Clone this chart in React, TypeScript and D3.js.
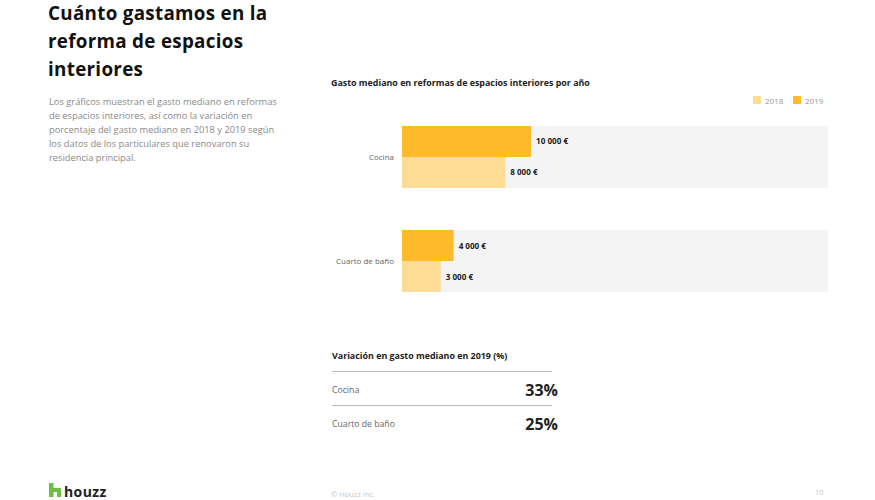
import React from "react";
import * as d3 from "d3";

const categories = ["Cocina", "Cuarto de baño"];
const years = ["2018", "2019"];
const values2018 = [8000, 3000];
const values2019 = [10000, 4000];
const variation = [33, 25];
const titleLines = ["Cuánto gastamos en la", "reforma de espacios", "interiores"];
const bodyLines = [
  "Los gráficos muestran el gasto mediano en reformas",
  "de espacios interiores, así como la variación en",
  "porcentaje del gasto mediano en 2018 y 2019 según",
  "los datos de los particulares que renovaron su",
  "residencia principal.",
];

const W = 875;
const H = 500;
const FONT = "'Open Sans', Lato, sans-serif";
const C2018 = "#FEDC95";
const C2019 = "#FDBB2B";
const BG = "#F4F4F4";

export default function App() {
  const x = d3.scaleLinear().domain([0, 33000]).range([402, 828]);
  const y = d3.scaleBand<string>().domain(categories).range([126, 292]).paddingInner(0.404).paddingOuter(0);
  const yInner = d3.scaleBand<string>().domain(["2019", "2018"]).range([0, y.bandwidth()]);
  const fmt = (v: number) => d3.format(",")(v).replace(/,/g, " ") + " €";
  const colors: Record<string, string> = { "2018": C2018, "2019": C2019 };

  const rowsY = d3.scaleBand<string>().domain(categories).range([372, 440]);

  return (
    <svg width={W} height={H} style={{ position: "absolute", left: 0, top: 0, background: "#fff" }} fontFamily={FONT}>
      {/* Title */}
      {titleLines.map((t, i) => (
        <text key={t} x={48} y={20.3 + i * 28} fontSize={18.8} fontWeight={700} fill="#111" letterSpacing={0.3}>
          {t}
        </text>
      ))}
      {bodyLines.map((t, i) => (
        <text key={t} x={49} y={105 + i * 14} fontSize={9.3} fill="#8a8a8a">
          {t}
        </text>
      ))}

      {/* Chart title */}
      <text x={331} y={86} fontSize={8.9} fontWeight={700} fill="#222">
        Gasto mediano en reformas de espacios interiores por año
      </text>

      {/* Legend */}
      {years.map((yr, i) => (
        <g key={yr} transform={`translate(${753 + i * 40},96)`}>
          <rect width={8} height={8} fill={colors[yr]} />
          <text x={12} y={7.5} fontSize={8} fill="#999">
            {yr}
          </text>
        </g>
      ))}

      {/* Bars */}
      {categories.map((c, i) => {
        const y0 = y(c)!;
        const vals: Record<string, number> = { "2018": values2018[i], "2019": values2019[i] };
        return (
          <g key={c}>
            <rect x={x(0)} y={y0} width={x.range()[1] - x(0)} height={y.bandwidth()} fill={BG} />
            {["2019", "2018"].map((yr) => (
              <g key={yr}>
                <rect x={x(0)} y={y0 + yInner(yr)!} width={x(vals[yr]) - x(0)} height={yInner.bandwidth()} fill={colors[yr]} />
                <text
                  x={x(vals[yr]) + 5}
                  y={y0 + yInner(yr)! + yInner.bandwidth() / 2 + 3}
                  fontSize={8.1}
                  fontWeight={700}
                  fill="#222"
                >
                  {fmt(vals[yr])}
                </text>
              </g>
            ))}
            <text x={394} y={y0 + y.bandwidth() / 2 + 3} fontSize={8} fill="#666" textAnchor="end">
              {c}
            </text>
          </g>
        );
      })}

      {/* Variation table */}
      <text x={332} y={359} fontSize={8.9} fontWeight={700} fill="#222">
        Variación en gasto mediano en 2019 (%)
      </text>
      {categories.map((c, i) => {
        const r0 = rowsY(c)!;
        return (
          <g key={c}>
            <line x1={332} x2={552} y1={r0 - 0.5} y2={r0 - 0.5} stroke="#bbb" strokeWidth={1} />
            <text x={332} y={r0 + 20.5} fontSize={8.7} fill="#666">
              {c}
            </text>
            <text x={558} y={r0 + 23.5} fontSize={16} fontWeight={700} fill="#222" textAnchor="end">
              {variation[i]}%
            </text>
          </g>
        );
      })}

      {/* Footer */}
      <g transform="translate(49,483)">
        <path d="M0,0 H4.5 V5 H12 V14 H8 V9 H4.5 V14 H0 Z" fill="#6FBE44" />
        <text x={15} y={13.5} fontSize={14} fontWeight={700} fill="#222" letterSpacing={0.4}>
          houzz
        </text>
      </g>
      <text x={331} y={497} fontSize={7.5} fill="#c8c8c8">
        © Houzz Inc.
      </text>
      <text x={815} y={495} fontSize={7.5} fill="#c8c8c8">
        10
      </text>
    </svg>
  );
}
